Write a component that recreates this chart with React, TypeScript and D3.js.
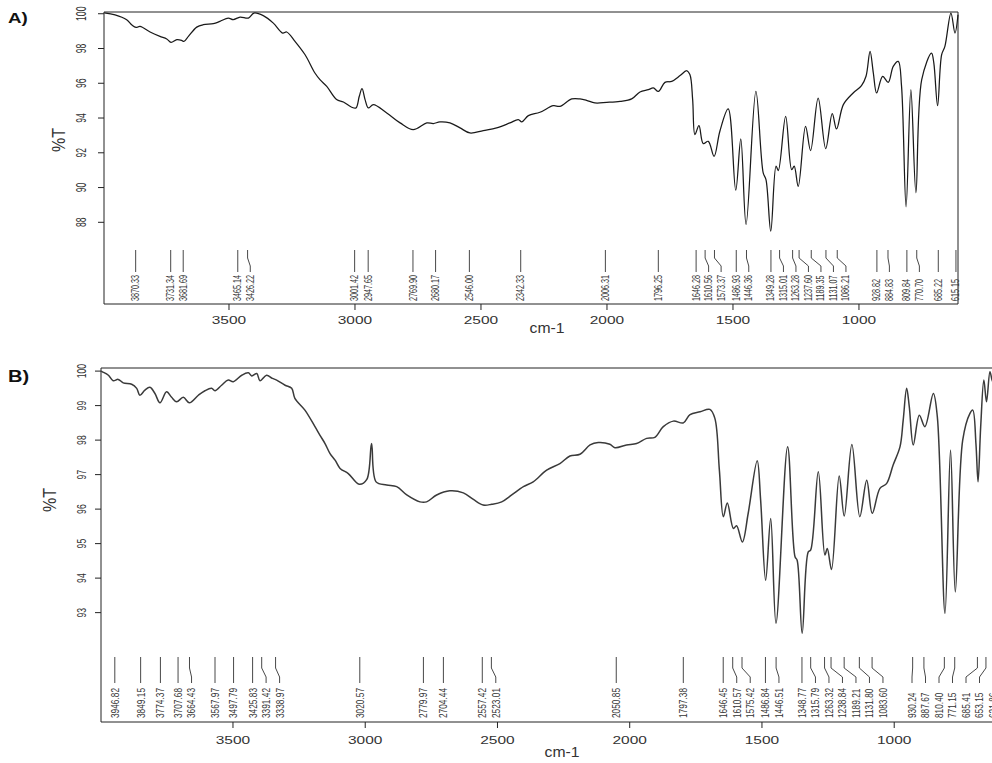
import * as d3 from "d3";

// wavenumber (cm-1), %T
const spectrumA: [number, number][] = [
  [3995, 100.05], [3952, 99.94], [3906, 99.66], [3885, 99.35], [3869, 99.21], [3853, 99.27],
  [3813, 98.95], [3774, 98.7], [3747, 98.55], [3730, 98.35], [3707, 98.51], [3688, 98.47],
  [3679, 98.41], [3661, 98.7], [3628, 99.23], [3602, 99.37], [3562, 99.43], [3536, 99.56],
  [3503, 99.75], [3483, 99.66], [3456, 99.81], [3423, 99.75], [3401, 100.04], [3364, 99.89],
  [3324, 99.46], [3287, 98.89], [3271, 98.95], [3238, 98.41], [3198, 97.64], [3159, 96.59],
  [3139, 96.21], [3112, 95.82], [3073, 95.06], [3046, 94.92], [3013, 94.62], [2996, 94.58],
  [2983, 95.25], [2972, 95.69], [2960, 95.06], [2947, 94.58], [2927, 94.77], [2874, 94.29],
  [2821, 93.72], [2769, 93.33], [2715, 93.72], [2689, 93.68], [2663, 93.78], [2623, 93.72],
  [2583, 93.43], [2544, 93.14], [2491, 93.28], [2438, 93.43], [2385, 93.72], [2352, 93.91],
  [2338, 93.78], [2312, 94.14], [2266, 94.33], [2213, 94.71], [2187, 94.67], [2140, 95.1],
  [2107, 95.1], [2081, 95.02], [2048, 94.87], [2001, 94.9], [1948, 94.96], [1902, 95.1],
  [1869, 95.5], [1836, 95.63], [1816, 95.73], [1796, 95.53], [1770, 96.05], [1743, 96.11],
  [1710, 96.44], [1684, 96.72], [1671, 96.5], [1660, 95.06], [1651, 93.05], [1635, 93.56],
  [1618, 92.53], [1598, 92.66], [1575, 91.8], [1552, 93.24], [1519, 94.52], [1489, 89.85],
  [1469, 92.8], [1448, 87.87], [1409, 95.53], [1380, 90.84], [1369, 90.46], [1350, 87.49],
  [1329, 91.23], [1320, 90.98], [1291, 94.1], [1267, 91.03], [1257, 91.23], [1241, 90.07],
  [1212, 93.52], [1192, 92.13], [1162, 95.15], [1132, 92.24], [1106, 94.25], [1089, 93.37],
  [1062, 94.77], [1023, 95.44], [990, 95.86], [972, 96.4], [956, 97.83], [943, 96.59],
  [930, 95.44], [906, 96.4], [884, 96.05], [864, 96.97], [844, 97.26], [831, 95.82],
  [813, 88.89], [794, 95.63], [774, 89.7], [751, 96.21], [712, 97.74], [703, 97.17],
  [688, 94.71], [672, 97.64], [659, 98.12], [635, 100.04], [619, 98.89], [607, 99.94],
];

const peaksA = [
  "3870.33", "3731.34", "3681.69", "3465.14", "3426.22", "3001.42", "2947.65", "2769.90",
  "2680.17", "2546.00", "2342.33", "2006.31", "1796.25", "1646.28", "1610.56", "1573.37",
  "1486.93", "1446.36", "1349.28", "1315.01", "1263.28", "1237.60", "1189.35", "1131.07",
  "1086.21", "928.82", "884.83", "809.84", "770.70", "685.22", "615.15",
];

const spectrumB: [number, number][] = [
  [3999, 100.0], [3994, 99.98], [3971, 99.88], [3953, 99.72], [3934, 99.76], [3915, 99.66],
  [3883, 99.62], [3864, 99.5], [3852, 99.3], [3833, 99.45], [3814, 99.53], [3795, 99.35],
  [3776, 99.08], [3751, 99.4], [3732, 99.24], [3713, 99.11], [3688, 99.24], [3665, 99.08],
  [3631, 99.3], [3606, 99.43], [3581, 99.5], [3568, 99.43], [3543, 99.59], [3518, 99.74],
  [3499, 99.69], [3467, 99.88], [3442, 99.95], [3429, 99.86], [3410, 99.93], [3398, 99.72],
  [3373, 99.88], [3351, 99.79], [3335, 99.74], [3303, 99.59], [3278, 99.5], [3266, 99.21],
  [3228, 98.87], [3190, 98.39], [3171, 98.14], [3152, 97.9], [3133, 97.61], [3114, 97.42],
  [3095, 97.18], [3064, 97.03], [3023, 96.72], [2994, 96.86], [2976, 97.9], [2959, 96.79],
  [2919, 96.7], [2881, 96.65], [2843, 96.41], [2793, 96.21], [2768, 96.21], [2730, 96.41],
  [2680, 96.53], [2629, 96.47], [2591, 96.28], [2554, 96.12], [2522, 96.14], [2484, 96.21],
  [2446, 96.41], [2402, 96.65], [2365, 96.79], [2314, 97.13], [2264, 97.32], [2226, 97.54],
  [2188, 97.59], [2150, 97.86], [2119, 97.93], [2075, 97.88], [2056, 97.78], [2012, 97.86],
  [1974, 97.9], [1936, 98.05], [1905, 98.08], [1873, 98.39], [1835, 98.55], [1797, 98.5],
  [1772, 98.74], [1734, 98.82], [1697, 98.89], [1678, 98.63], [1661, 97.13], [1646, 95.78],
  [1631, 96.18], [1608, 95.44], [1596, 95.52], [1574, 95.05], [1552, 95.88], [1518, 97.4],
  [1505, 96.26], [1486, 93.94], [1467, 95.73], [1447, 92.69], [1403, 97.81], [1375, 94.62],
  [1367, 94.52], [1348, 92.4], [1325, 94.76], [1316, 94.81], [1287, 97.08], [1262, 94.67],
  [1253, 94.86], [1237, 94.25], [1208, 96.96], [1189, 95.8], [1160, 97.87], [1130, 95.78],
  [1104, 96.84], [1083, 95.88], [1054, 96.6], [1029, 96.74], [1004, 97.28], [978, 97.81],
  [966, 98.58], [953, 99.5], [943, 98.97], [928, 97.86], [905, 98.72], [884, 98.39],
  [852, 99.35], [837, 98.68], [808, 92.98], [787, 97.71], [769, 93.6], [741, 98.0],
  [714, 98.77], [703, 98.87], [691, 97.9], [683, 96.79], [673, 98.39], [661, 99.74],
  [651, 99.11], [638, 99.98], [630, 99.74], [622, 99.6],
];

const peaksB = [
  "3946.82", "3849.15", "3774.37", "3707.68", "3664.43", "3567.97", "3497.79", "3425.83",
  "3391.42", "3338.97", "3020.57", "2779.97", "2704.44", "2557.42", "2523.01", "2050.85",
  "1797.38", "1646.45", "1610.57", "1575.42", "1486.84", "1446.51", "1348.77", "1315.79",
  "1263.32", "1238.84", "1189.21", "1131.80", "1083.60", "930.24", "887.67", "810.40",
  "771.15", "685.41", "653.15", "621.86",
];

const xTicks = [3500, 3000, 2500, 2000, 1500, 1000];
const yTicksA = [100, 98, 96, 94, 92, 90, 88];
const yTicksB = [100, 99, 98, 97, 96, 95, 94, 93];

const FONT = "'Liberation Sans', Arial, sans-serif";

// push labels right so they don't overlap, then back left from the edge
function spreadLabels(xs: number[], gap: number, maxX: number) {
  const out = xs.slice();
  for (let i = 1; i < out.length; i++) out[i] = Math.max(out[i], out[i - 1] + gap);
  out[out.length - 1] = Math.min(out[out.length - 1], maxX);
  for (let i = out.length - 2; i >= 0; i--) out[i] = Math.min(out[i], out[i + 1] - gap);
  return out;
}

function SText(props: {
  x: number; y: number; rot?: number; sx?: number; size: number;
  anchor?: string; weight?: string | number; fill?: string; dy?: string; children: any;
}) {
  const { x, y, rot = 0, sx = 1, size, anchor = "middle", weight, fill = "#222", dy = "0.35em" } = props;
  return (
    <text
      transform={`translate(${x},${y}) scale(${sx},1) rotate(${rot})`}
      fontSize={size}
      fontFamily={FONT}
      fontWeight={weight}
      textAnchor={anchor}
      dy={dy}
      fill={fill}
    >
      {props.children}
    </text>
  );
}

type PanelCfg = {
  tag: string;
  data: [number, number][];
  peaks: string[];
  yTicks: number[];
  left: number; right: number; top: number; bottom: number;
  xDomain: [number, number];
  yDomain: [number, number];
  drawRight: boolean;
  labelGap: number;
  labelMax: number;
  lineY: [number, number, number, number];
  labelY: number;
  labelSize: number; labelSx: number;
  yTickSize: number; yTickSx: number; yTickLabelX: number;
  xTickLabelY: number;
  xTitle: [number, number];
  yTitle: [number, number];
  tagPos: [number, number]; tagSize: number;
  stroke: string; strokeW: number;
};

function Panel({ c }: { c: PanelCfg }) {
  const x = d3.scaleLinear().domain(c.xDomain).range([c.left, c.right]);
  const y = d3.scaleLinear().domain(c.yDomain).range([c.bottom, c.top]);
  const line = d3
    .line<[number, number]>()
    .x((d) => x(d[0]))
    .y((d) => y(d[1]))
    .curve(d3.curveCatmullRom.alpha(0.5));

  const peakX = c.peaks.map((p) => x(+p));
  const labX = spreadLabels(peakX, c.labelGap, c.labelMax);
  const [l0, l1, l2, l3] = c.lineY;

  return (
    <g>
      {/* frame */}
      <path
        d={
          `M${c.left},${c.top}H${c.right}` +
          (c.drawRight ? `V${c.bottom}` : `M${c.right},${c.bottom}`) +
          `H${c.left}V${c.top}`
        }
        fill="none"
        stroke="#222"
        strokeWidth={1}
      />
      {/* x axis */}
      {xTicks.map((t) => (
        <g key={t}>
          <line x1={x(t)} x2={x(t)} y1={c.bottom} y2={c.bottom + 6} stroke="#222" />
          <SText x={x(t)} y={c.xTickLabelY} size={10} sx={1.55} fill="#333">
            {t}
          </SText>
        </g>
      ))}
      {/* y axis */}
      {c.yTicks.map((t) => (
        <g key={t}>
          <line x1={c.left - 6} x2={c.left} y1={y(t)} y2={y(t)} stroke="#222" />
          <SText x={c.yTickLabelX} y={y(t)} rot={-90} size={c.yTickSize} sx={c.yTickSx} fill="#333">
            {t}
          </SText>
        </g>
      ))}
      <SText x={c.xTitle[0]} y={c.xTitle[1]} size={15} sx={1.05} fill="#333">
        cm-1
      </SText>
      <SText x={c.yTitle[0]} y={c.yTitle[1]} rot={-90} size={16} sx={1.1} fill="#333">
        %T
      </SText>
      <SText x={c.tagPos[0]} y={c.tagPos[1]} size={c.tagSize} sx={1.25} anchor="start" weight="bold" fill="#111">
        {c.tag}
      </SText>

      {/* peak markers */}
      {c.peaks.map((p, i) => (
        <g key={p}>
          <path
            d={`M${peakX[i]},${l0}V${l1}L${labX[i]},${l2}V${l3}`}
            fill="none"
            stroke="#333"
            strokeWidth={0.9}
          />
          <SText
            x={labX[i]}
            y={c.labelY}
            rot={-90}
            size={c.labelSize}
            sx={c.labelSx}
            anchor="start"
            fill="#333"
          >
            {p}
          </SText>
        </g>
      ))}

      {/* spectrum */}
      <path d={line(c.data) || undefined} fill="none" stroke={c.stroke} strokeWidth={c.strokeW} strokeLinejoin="round" />
    </g>
  );
}

const panelA: PanelCfg = {
  tag: "A)",
  data: spectrumA,
  peaks: peaksA,
  yTicks: yTicksA,
  left: 104, right: 958, top: 12, bottom: 304,
  xDomain: [3996, 607],
  yDomain: [83.3, 100.1],
  drawRight: true,
  labelGap: 12.5,
  labelMax: 957,
  lineY: [250, 258, 266, 272],
  labelY: 301,
  labelSize: 7.2, labelSx: 1.4,
  yTickSize: 8.6, yTickSx: 1.7, yTickLabelX: 80.5,
  xTickLabelY: 320,
  xTitle: [547, 328],
  yTitle: [58.5, 140],
  tagPos: [8, 18], tagSize: 15,
  stroke: "#1a1a1a", strokeW: 1.25,
};

const panelB: PanelCfg = {
  tag: "B)",
  data: spectrumB,
  peaks: peaksB,
  yTicks: yTicksB,
  left: 101, right: 1000, top: 368, bottom: 722,
  xDomain: [3999, 600],
  yDomain: [89.83, 100.09],
  drawRight: false,
  labelGap: 13.5,
  labelMax: 993,
  lineY: [657, 668, 677, 683],
  labelY: 718,
  labelSize: 8.3, labelSx: 1.35,
  yTickSize: 8.6, yTickSx: 1.5, yTickLabelX: 81,
  xTickLabelY: 740,
  xTitle: [562, 752],
  yTitle: [50, 500],
  tagPos: [8, 376], tagSize: 16,
  stroke: "#3a3a3a", strokeW: 1.5,
};

export default function App() {
  return (
    <svg
      width={992}
      height={763}
      viewBox="0 0 992 763"
      style={{ position: "absolute", left: 0, top: 0, background: "#fff", display: "block" }}
    >
      <rect width={992} height={763} fill="#fff" />
      <Panel c={panelA} />
      <Panel c={panelB} />
    </svg>
  );
}
